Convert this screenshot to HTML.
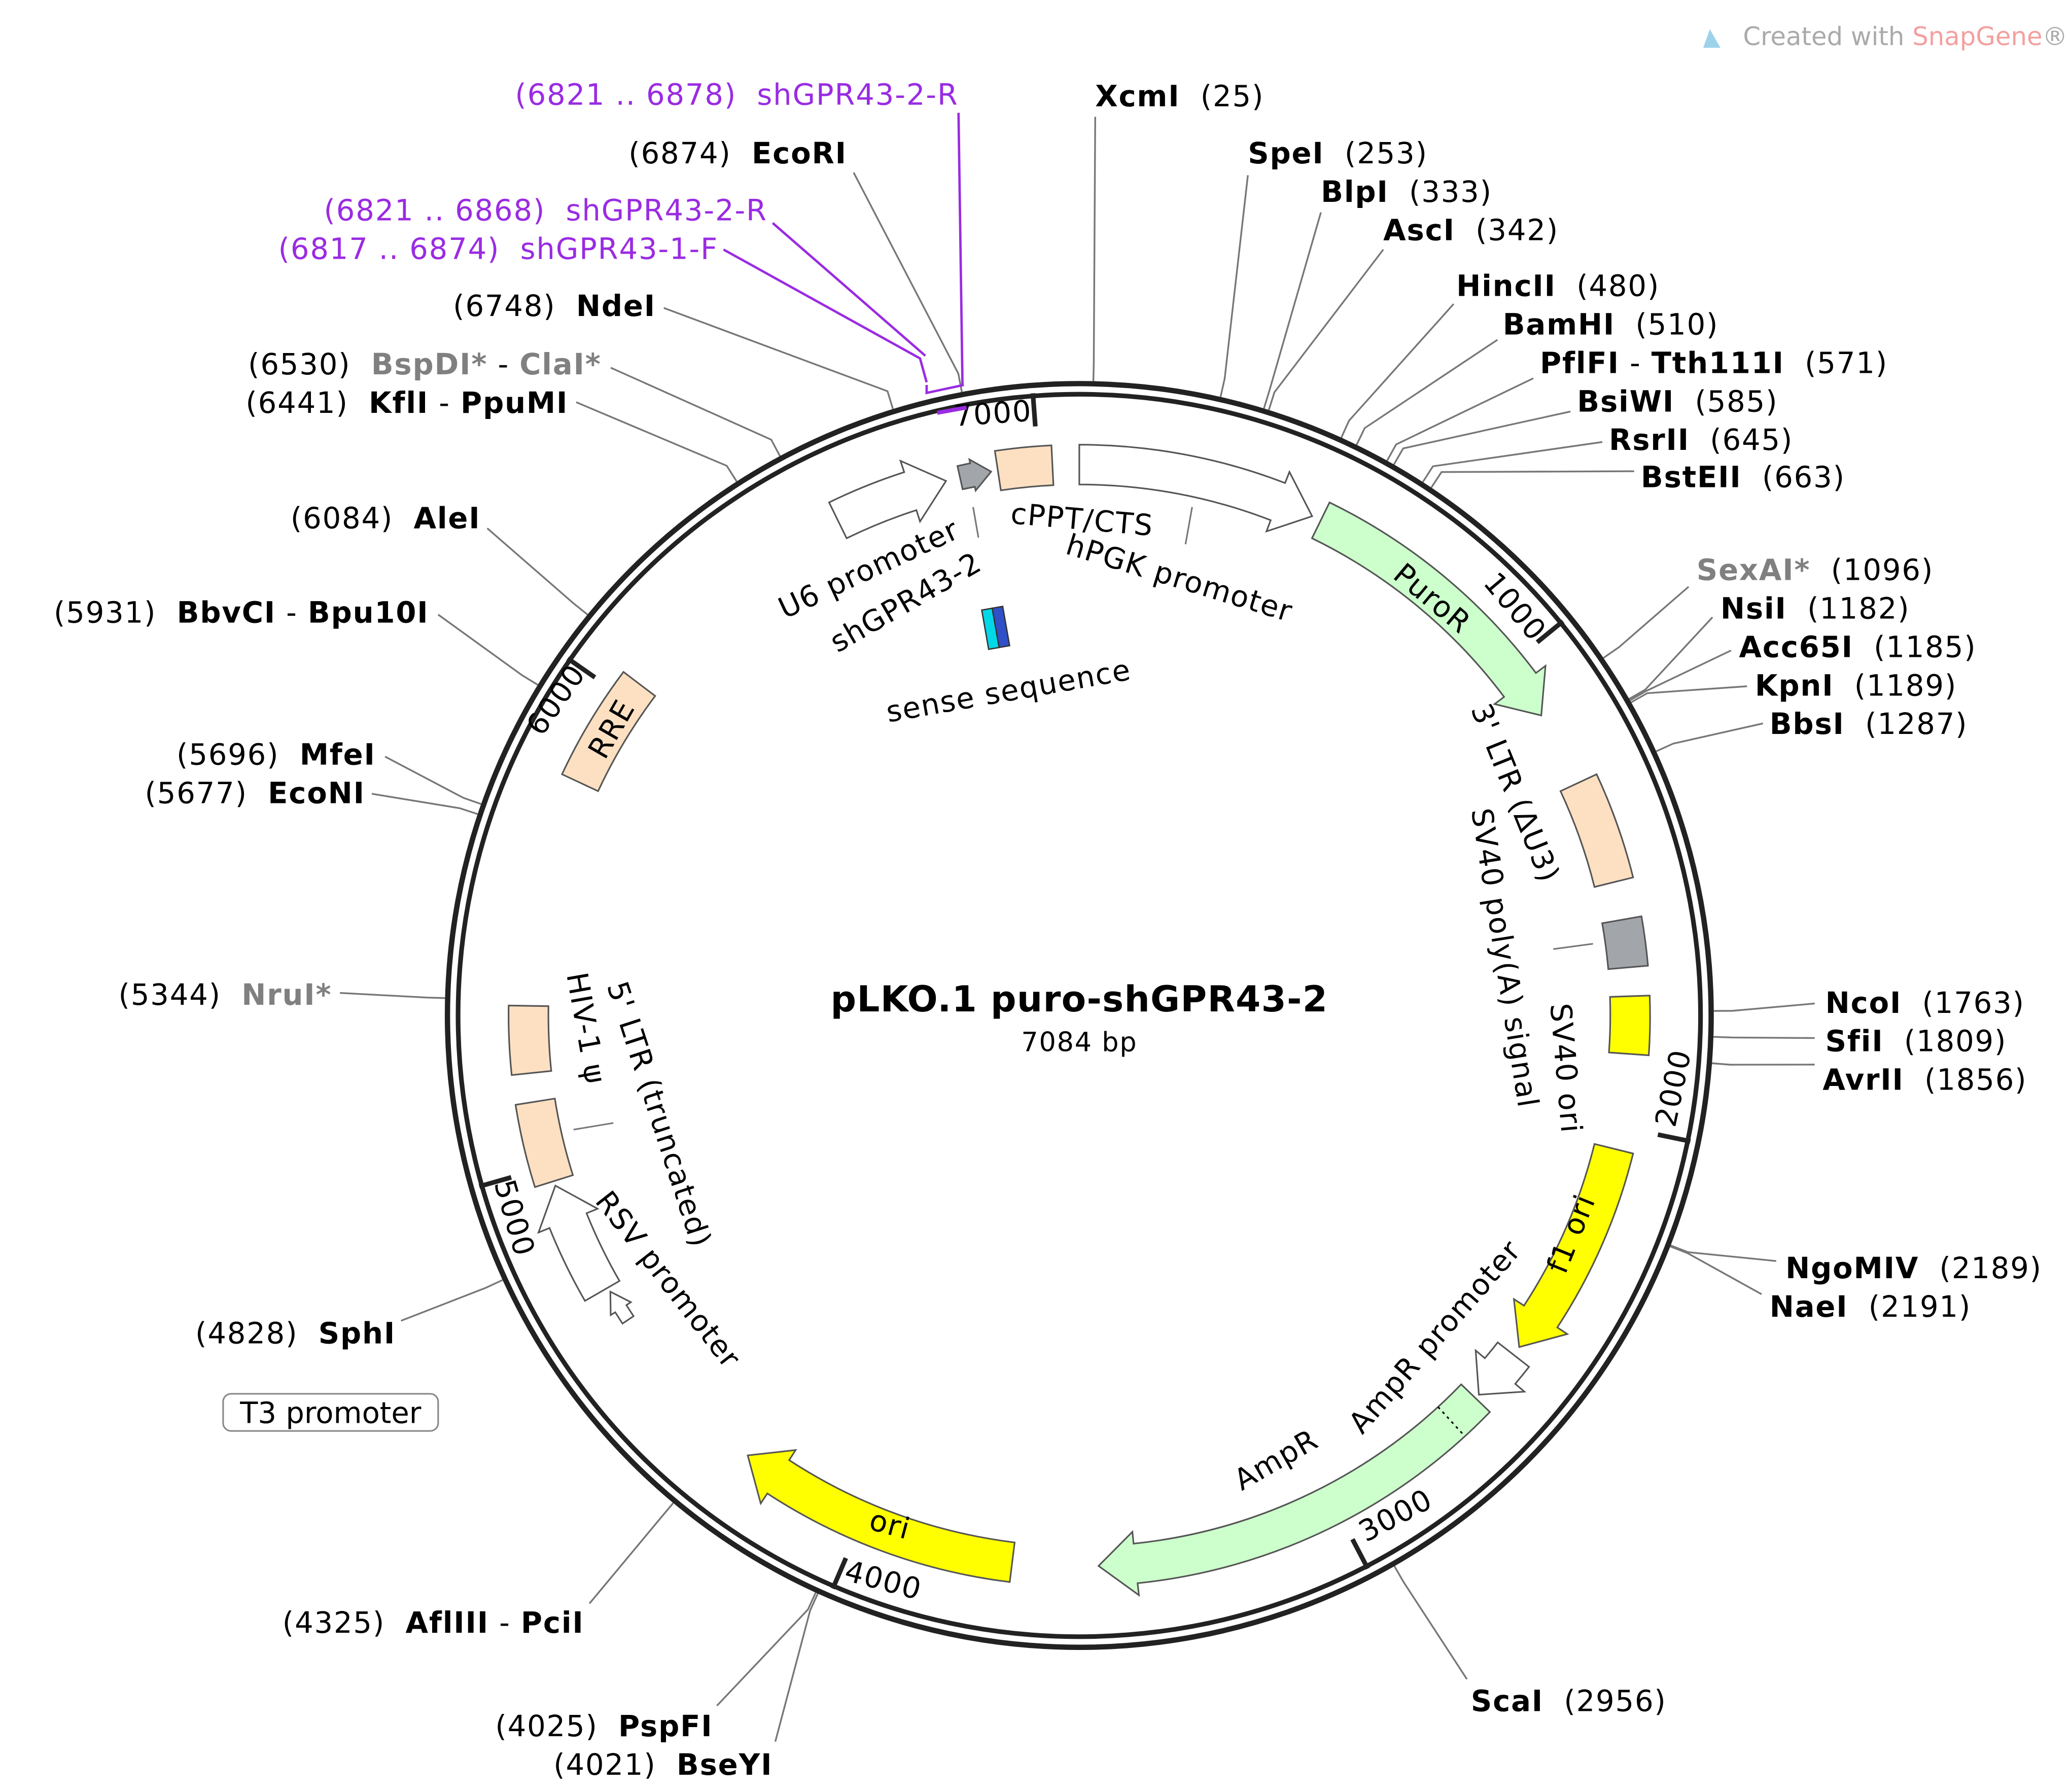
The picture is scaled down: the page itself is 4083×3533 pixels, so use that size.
<!DOCTYPE html>
<html><head><meta charset="utf-8"><style>
html,body{margin:0;padding:0;background:#fff}
svg{display:block}
text{font-family:"DejaVu Sans","Liberation Sans",sans-serif;font-size:22px;letter-spacing:0.7px;fill:#000;white-space:pre}
.b{font-weight:bold}
.g{fill:#808080}
.p{fill:#9a2be2}
</style></head><body>
<svg id="s" xmlns="http://www.w3.org/2000/svg" width="4083" height="3533" viewBox="0 0 1560 1350">
<rect width="1560" height="1350" fill="#fff"/>
<g id="lines" stroke="#777" stroke-width="1.3" fill="none"></g>
<circle cx="813" cy="765" r="476" fill="none" stroke="#222" stroke-width="4"/>
<circle cx="813" cy="765" r="468" fill="none" stroke="#222" stroke-width="3.5"/>
<g id="feat" stroke="#555" stroke-width="1.2"></g>
<g id="ticks" stroke="#222" stroke-width="3.5"></g>
<g id="labels"></g>
<g stroke="#9a2be2" stroke-width="1.8" fill="none">
<polyline points="545,188 693,270 698,288"/>
<polyline points="582,168 697,268"/>
<polyline points="722,85 725,290"/>
<polyline points="698,290 698,296 726,290"/>
<line x1="706" y1="311" x2="728" y2="307" stroke-width="3"/>
</g>
<g stroke="#777" stroke-width="1.2">
<line x1="737" y1="405" x2="733" y2="382"/>
<line x1="893" y1="410" x2="898" y2="382"/>
<line x1="1170" y1="715" x2="1200" y2="711"/>
<line x1="432" y1="851" x2="462" y2="846"/>
</g>
<g transform="translate(750,473) rotate(-10)" stroke="#333" stroke-width="1">
<rect x="-8" y="-15" width="8" height="30" fill="#00d8e8"/>
<rect x="0" y="-15" width="8" height="30" fill="#3050c8"/>
</g>
<text x="813" y="762" text-anchor="middle" class="b" style="font-size:27px;letter-spacing:0.5px">pLKO.1 puro-shGPR43-2</text>
<text x="813" y="792" text-anchor="middle" style="font-size:20px">7084 bp</text>
<text x="1313" y="34" style="font-size:19px;letter-spacing:0;fill:#aaa">Created with <tspan style="fill:#f3a0a0">SnapGene</tspan>®</text>
<path d="M1283,36 l5,-14 l8,14 z" fill="#9cd3ea"/>
<rect x="168" y="1050" width="162" height="28" rx="6" fill="#fff" stroke="#888" stroke-width="1.2"/>
<text x="249" y="1072" text-anchor="middle" style="letter-spacing:0">T3 promoter</text>
</svg>
<script>
var cx=813,cy=765,NS="http://www.w3.org/2000/svg";
function pt(r,a){a=a*Math.PI/180;return [cx+r*Math.sin(a),cy-r*Math.cos(a)];}
function P(p){return p[0].toFixed(1)+","+p[1].toFixed(1);}
function el(par,tag,at,txt){var e=document.createElementNS(NS,tag);for(var k in at)e.setAttribute(k,at[k]);if(txt!=null)e.textContent=txt;document.getElementById(par).appendChild(e);return e;}
function band(a1,a2,r1,r2,dir,fill,hw){
 var rm=(r1+r2)/2,h=dir?Math.min(28/rm*180/Math.PI,(a2-a1)*0.6):0,d;hw=hw==null?9:hw;
 var L=(a2-a1-h)>180?1:0;
 if(dir==1){var b=a2-h;
  d="M"+P(pt(r2,a1))+"A"+r2+","+r2+" 0 "+L+" 1 "+P(pt(r2,b))+"L"+P(pt(r2+hw,b))+"L"+P(pt(rm,a2))+"L"+P(pt(r1-hw,b))+"L"+P(pt(r1,b))+"A"+r1+","+r1+" 0 "+L+" 0 "+P(pt(r1,a1))+"Z";}
 else{d="M"+P(pt(r2,a1))+"A"+r2+","+r2+" 0 "+L+" 1 "+P(pt(r2,a2))+"L"+P(pt(r1,a2))+"A"+r1+","+r1+" 0 "+L+" 0 "+P(pt(r1,a1))+"Z";}
 el("feat","path",{d:d,fill:fill});
}
var W="#fff",PE="#fde0c2",G="#ccffcc",Y="#ffff00",GR="#a2a6ab";
band(351.5,357.2,400,430,0,PE);
band(0,25,400,430,1,W);
band(26,57,400,430,1,G);
band(65,76,400,430,0,PE);
band(80,85,400,430,0,GR);
band(88,94,400,430,0,Y);
band(104,127,400,430,1,Y);
band(128,133.5,400,430,1,W);
band(134,178,400,430,1,G);
band(187,217,400,430,1,Y);
band(236,239.5,405,415,1,W,4);
band(240,252,400,430,1,W);
band(252.5,261,400,430,0,PE);
band(264,271,400,430,0,PE);
band(295,307,400,430,0,PE);
band(334,346,400,430,1,W);
band(347.5,350.8,406,424,1,GR,3);
var q1=pt(400,137.5),q2=pt(430,137.5);
el("feat","line",{x1:q1[0],y1:q1[1],x2:q2[0],y2:q2[1],"stroke-dasharray":"2,3",stroke:"#000"});
[1000,2000,3000,4000,5000,6000,7000].forEach(function(b){var a=b/7084*360,p1=pt(445,a),p2=pt(470,a);
 el("ticks","line",{x1:p1[0],y1:p1[1],x2:p2[0],y2:p2[1]});});
function rt(x,y,rot,t,cls){el("labels","text",{x:x,y:y,"text-anchor":"middle","dominant-baseline":"middle",transform:"rotate("+rot+" "+x+" "+y+")","class":cls||""},t);}
rt(1140,458,50,"1000");rt(1262,820,-78,"2000");rt(1052,1143,-28,"3000");rt(665,1192,15,"4000");
rt(386,918,74,"5000");rt(420,528,-55,"6000");rt(748,313,-4,"7000");
rt(815,393,5,"cPPT/CTS");rt(888,437,17,"hPGK promoter");rt(1078,452,40,"PuroR");
rt(1140,598,68,"3' LTR (ΔU3)");rt(1132,722,81,"SV40 poly(A) signal");rt(1178,805,85,"SV40 ori");
rt(1185,930,-68,"f1 ori");rt(1082,1008,-49,"AmpR promoter");rt(962,1101,-30,"AmpR");rt(670,1150,15,"ori");
rt(502,965,52,"RSV promoter");rt(495,840,72,"5' LTR (truncated)");rt(440,775,80,"HIV-1 ψ");
rt(462,550,-60,"RRE");rt(655,430,-25,"U6 promoter");rt(683,455,-30,"shGPR43-2");rt(760,522,-10,"sense sequence");
var S=[
[[["XcmI"]],25,"R",825,80,825,88],[[["SpeI"]],253,"R",940,123,940,132],[[["BlpI"]],333,"R",995,152,995,160],
[[["AscI"]],342,"R",1042,181,1042,188],[[["HincII"]],480,"R",1097,223,1095,229],[[["BamHI"]],510,"R",1132,252,1128,256],
[[["PflFI"],["Tth111I"]],571,"R",1160,281,1155,285],[[["BsiWI"]],585,"R",1188,310,1183,310],[[["RsrII"]],645,"R",1212,339,1207,333],
[[["BstEII"]],663,"R",1236,367,1231,355],[[["SexAI*",1]],1096,"R",1278,437,1272,442],[[["NsiI"]],1182,"R",1296,466,1290,465],
[[["Acc65I"]],1185,"R",1310,495,1304,490],[[["KpnI"]],1189,"R",1322,524,1316,517],[[["BbsI"]],1287,"R",1333,553,1328,545],
[[["NcoI"]],1763,"R",1375,763,1367,756],[[["SfiI"]],1809,"R",1375,792,1367,782],[[["AvrII"]],1856,"R",1373,821,1367,802],
[[["NgoMIV"]],2189,"R",1345,963,1338,950],[[["NaeI"]],2191,"R",1333,992,1327,975],[[["ScaI"]],2956,"R",1108,1289,1105,1265],
[[["PspFI"]],4025,"L",537,1308,540,1285],[[["BseYI"]],4021,"L",582,1337,584,1312],[[["AflIII"],["PciI"]],4325,"L",440,1230,444,1208],
[[["SphI"]],4828,"L",298,1012,302,995],[[["NruI*",1]],5344,"L",250,757,256,748],[[["EcoNI"]],5677,"L",275,605,280,598],
[[["MfeI"]],5696,"L",283,576,290,570],[[["BbvCI"],["Bpu10I"]],5931,"L",323,469,330,463],[[["AleI"]],6084,"L",362,398,367,398],
[[["KflI"],["PpuMI"]],6441,"L",428,311,434,303],[[["BspDI*",1],["ClaI*",1]],6530,"L",453,282,460,277],
[[["NdeI"]],6748,"L",494,238,500,232],[[["EcoRI"]],6874,"L",638,123,643,130]];
S.forEach(function(s){var a=s[1]/7084*360,p0=pt(478,a),p1=pt(492,a);
 el("lines","polyline",{points:P(p0)+" "+P(p1)+" "+s[5]+","+s[6]});
 var t=el("labels","text",{x:s[3],y:s[4],"text-anchor":s[2]=="R"?"start":"end"});
 function ts(txt,cls){var e=document.createElementNS(NS,"tspan");if(cls)e.setAttribute("class",cls);e.textContent=txt;t.appendChild(e);}
 if(s[2]=="L")ts("("+s[1]+")  ");
 s[0].forEach(function(n,i){if(i)ts(" - ");ts(n[0],n[1]?"b g":"b");});
 if(s[2]=="R")ts("  ("+s[1]+")");
});
[["(6821 .. 6878)  shGPR43-2-R",722,79],["(6821 .. 6868)  shGPR43-2-R",578,166],["(6817 .. 6874)  shGPR43-1-F",541,195]].forEach(function(p){
 el("labels","text",{x:p[1],y:p[2],"text-anchor":"end","class":"p"},p[0]);});
</script>
</body></html>
